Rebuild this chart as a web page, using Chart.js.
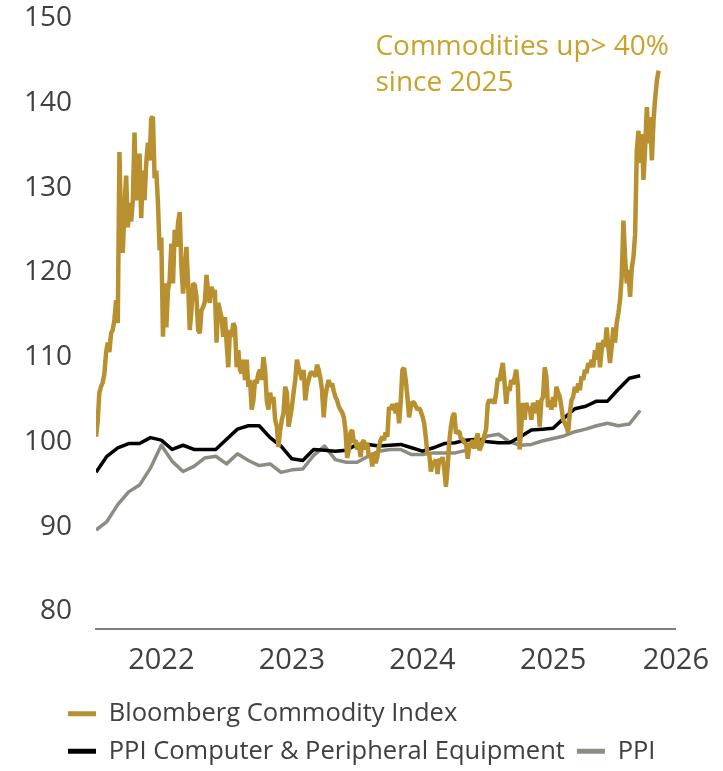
<!DOCTYPE html>
<html>
<head>
<meta charset="utf-8">
<script src="https://cdn.jsdelivr.net/npm/chart.js@4.4.1/dist/chart.umd.min.js"></script>
<style>
  html, body { margin: 0; padding: 0; background: #ffffff; }
  canvas { display: block; }
</style>
</head>
<body>
<canvas id="chart" width="723" height="771"></canvas>
<script>
// Axis labels
const yearLabels = ['2022', '2023', '2024', '2025', '2026'];
const valueTicks = [80, 90, 100, 110, 120, 130, 140, 150];

// Series names
const seriesNames = ['Bloomberg Commodity Index', 'PPI Computer & Peripheral Equipment', 'PPI'];

// Bloomberg Commodity Index, sampled every 1/78 of a year from January 2022
const commodityIndex = [
  100.6, 102.4, 105.8, 106.5, 107, 108, 110.5, 111.7, 110.6, 112.8,
  113.2, 114.4, 116.7, 114, 134.2, 125, 122.3, 127.7, 131.4, 125.3,
  128.2, 126, 128.5, 136.5, 128.5, 131.7, 134, 126.4, 132, 128.5,
  132.9, 135.3, 133.2, 138.2, 138.3, 131.1, 132, 128.2, 122.6, 124.1,
  112.4, 118.7, 113.5, 117.9, 119.1, 123.4, 118.7, 125, 123, 125.8,
  127.1, 120.6, 117.5, 120, 123, 118.7, 113.2, 115.5, 118.7,
  118.5, 117.1, 113.2, 112.8, 115.5, 115.9, 116.5, 119.7, 117.5, 116.4,
  118.3, 117.5, 117.9, 111.7, 116.4, 115.5, 114.7, 112.4, 114.7, 111.7,
  108.8, 113.2, 112.4, 114, 113.5, 108.8, 110.8, 108.5, 108.1, 109.7,
  107.3, 109.7, 106.5, 107.3, 103.8, 104.9, 107.3, 106.9, 108.1, 108.5,
  107.3, 110, 108.5, 104.9, 103.8, 105.8, 104.6, 105.3, 102.6, 101.8,
  99.4, 101.4, 102.6, 103.4, 106.5, 105.8, 101.8, 102.9, 104.1, 105.8,
  107.3, 109.7, 108.8, 108.1, 107.3, 108.5,
  104.9, 106.5, 107.3, 108.1, 108.2, 108, 107.7, 109.1, 108.5, 107.5,
  106.1, 102.9, 105.3, 106.5, 107.3, 106.5, 106.9, 106, 105.3, 104.9,
  104.2, 103.8, 103.5, 102.9, 101.4,
  98.1, 99.1, 101.1, 101.4, 99.9, 100.2, 99.1, 99.9, 98.2, 99.9,
  100.2, 99.1, 99.9, 98.1, 98.7, 97.1, 98.7, 97.5, 98.2, 99.4,
  100.2, 100.6, 100.2, 101.1, 100.6, 104.1, 103.8, 104.4, 104.1, 103.4,
  104.6, 102.2, 104.7, 108.5, 108.7, 107.3, 105.3, 102.9, 104.1,
  104.7, 104.6, 104.2, 103.8, 104, 103.6, 103, 102.2, 100.5, 98.5,
  98.7, 96.5, 97.5, 97.6, 97.9, 96.2, 98, 97.5, 98.2, 96.8,
  94.7, 97, 100, 101.8, 103, 103.4, 101, 101.2, 101.2, 100.3,
  100.4, 99.8, 99.9, 98, 99.6, 99.8, 100.2, 99.2, 100.2, 101,
  99, 99.5, 100, 100.8, 101.5, 104.5, 105, 104.6, 105, 104.5,
  105.8, 107.5, 107.2, 108.3, 109.3, 107, 104.5, 106.5, 106, 107.3,
  106.8, 107.6,
  108.5, 106.5, 99.1, 101.8, 104.6, 102.6, 104.6, 103.8, 104.1, 102.6,
  104.6, 104.1, 103.4, 104.9, 101.8, 104.9, 105.3, 108.8, 107.7, 104.1,
  104.9, 103.8, 105.3, 104.1, 106.5, 105.8, 105.3, 104.1, 102.6, 102.2,
  101.8, 101.1, 103.4, 104.9, 105.3, 106.5, 105.8, 106.9, 106.1, 107.7,
  107.3, 108.5, 108.1, 109.3, 108.8, 109.7, 108.8, 110.8, 109.7, 111.7,
  108.8, 110.8, 112, 111.2, 113.5, 111.2, 109.3, 111.2, 113.5, 111.7,
  114, 115.2, 116.7, 119.5,
  126.1, 121.8, 118.7, 120.3, 117.1, 120.5, 121.8, 124.5, 134.4, 136.7,
  132.9, 136.3, 130.9, 134.7, 139.5, 135.2, 138.3, 133.2, 137.9, 140.6,
  142.6, 143.8
];

// Monthly producer price indices from January 2022
const ppiComputer = [
  96.4, 98.3, 99.3, 99.8, 99.8, 100.5, 100.2, 99.1, 99.6, 99.1,
  99.1, 99.1, 100.3, 101.5, 101.9, 101.9, 100.5, 99.5, 98.0, 97.8,
  99.1, 99.0, 98.9, 99.0, 99.7, 99.7, 99.5, 99.6, 99.7, 99.3,
  98.9, 99.3, 99.8, 99.9, 100.2, 100.3, 100.0, 99.9, 99.9, 100.6,
  101.4, 101.5, 101.6, 102.8, 103.9, 104.2, 104.8, 104.8, 106.2, 107.5,
  107.8
];
const ppi = [
  89.6, 90.6, 92.6, 94.1, 94.9, 96.9, 99.6, 97.7, 96.5, 97.1,
  98.1, 98.3, 97.4, 98.6, 97.8, 97.2, 97.4, 96.4, 96.7, 96.8,
  98.4, 99.5, 97.9, 97.6, 97.6, 98.3, 98.9, 99.1, 99.1, 98.5,
  98.5, 98.7, 98.7, 98.7, 99.0, 100.0, 100.7, 100.9, 100.0, 99.6,
  99.7, 100.1, 100.4, 100.7, 101.2, 101.5, 101.9, 102.2, 101.9, 102.1,
  103.7
];

const noteLines = ['Commodities up> 40%', 'since 2025'];

const startYear = 2022;
const commodityPoints = commodityIndex.map((v, i) => ({ x: startYear + i / 78, y: v }));
const monthly = arr => arr.map((v, i) => ({ x: startYear + i / 12, y: v }));

const FONT = '"Open Sans", "Noto Sans", sans-serif';
const TEXT = '#404040';
const GOLD = '#b8902f';
const BLACK = '#000000';
const GREY = '#8c8c82';

// Annotation text in the upper right of the plot
const notePlugin = {
  id: 'note',
  afterDatasetsDraw(chart) {
    const { ctx, scales } = chart;
    const px = scales.x.getPixelForValue(2024.14);
    const py = scales.y.getPixelForValue(145.6);
    ctx.save();
    ctx.font = '28px ' + FONT;
    ctx.fillStyle = '#c8a22a';
    ctx.textAlign = 'left';
    ctx.textBaseline = 'alphabetic';
    noteLines.forEach((t, i) => ctx.fillText(t, px, py + i * 35.5));
    ctx.restore();
  }
};

// Legend is indented to line up under the axis labels
const legendIndent = {
  id: 'legendIndent',
  afterLayout(chart) {
    const lg = chart.legend;
    if (lg) { lg.left += 56; lg.right += 56; lg.top += 3; lg.bottom += 3; }
  }
};

new Chart(document.getElementById('chart'), {
  type: 'line',
  data: {
    datasets: [
      { label: seriesNames[0], data: commodityPoints, borderColor: GOLD, backgroundColor: GOLD, borderWidth: 4.5, borderJoinStyle: 'bevel' },
      { label: seriesNames[1], data: monthly(ppiComputer), borderColor: BLACK, backgroundColor: BLACK, borderWidth: 3.5, borderJoinStyle: 'round' },
      { label: seriesNames[2], data: monthly(ppi), borderColor: GREY, backgroundColor: GREY, borderWidth: 3.5, borderJoinStyle: 'round' }
    ]
  },
  options: {
    responsive: false,
    animation: false,
    devicePixelRatio: 1,
    elements: { point: { radius: 0 }, line: { tension: 0, borderCapStyle: 'butt' } },
    layout: { padding: { top: 0, right: 47, left: 0, bottom: 0 } },
    scales: {
      x: {
        type: 'linear',
        min: 2022,
        max: 2026.44,
        grid: { display: false, drawTicks: false },
        border: { display: true, color: '#7f7f7f', width: 2 },
        afterBuildTicks(scale) {
          scale.ticks = yearLabels.map(y => ({ value: Math.min(Number(y) + 0.5, scale.max) }));
        },
        afterFit(scale) { scale.height -= 6; },
        ticks: {
          autoSkip: false,
          maxRotation: 0,
          padding: 14,
          color: TEXT,
          font: { family: FONT, size: 29 },
          callback: v => String(Math.floor(v))
        }
      },
      y: {
        min: 77.9,
        max: 150,
        grid: { display: false, drawTicks: false },
        border: { display: false },
        afterBuildTicks(scale) {
          scale.ticks = valueTicks.map(v => ({ value: v }));
        },
        afterFit(scale) {
          scale.width = 96;
          scale.paddingTop = 18;
          scale.paddingBottom = 0;
        },
        ticks: {
          padding: 24,
          color: TEXT,
          font: { family: FONT, size: 28 }
        }
      }
    },
    plugins: {
      tooltip: { enabled: false },
      legend: {
        position: 'bottom',
        align: 'start',
        labels: {
          boxWidth: 28,
          boxHeight: 5,
          padding: 12,
          color: TEXT,
          font: { family: FONT, size: 25.5 },
          generateLabels(chart) {
            return chart.data.datasets.map((ds, i) => ({
              text: ds.label,
              fillStyle: ds.borderColor,
              strokeStyle: ds.borderColor,
              lineWidth: 0,
              hidden: false,
              datasetIndex: i,
              fontColor: TEXT
            }));
          }
        }
      }
    }
  },
  plugins: [notePlugin, legendIndent]
});
</script>
</body>
</html>
